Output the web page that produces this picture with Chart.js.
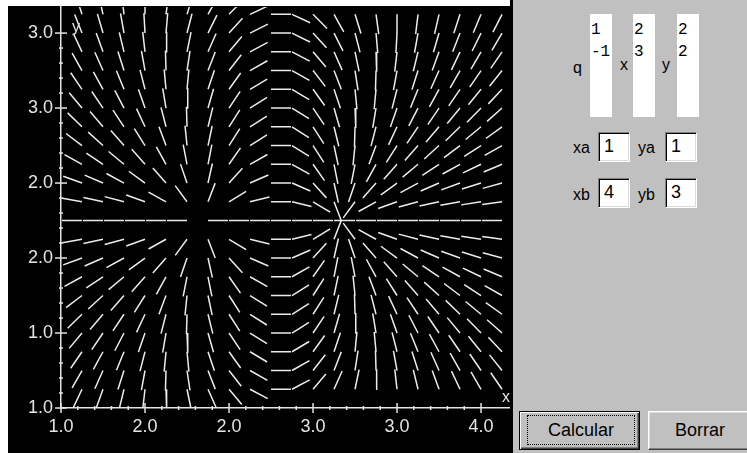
<!DOCTYPE html>
<html>
<head>
<meta charset="utf-8">
<script src="https://cdn.jsdelivr.net/npm/chart.js@4/dist/chart.umd.min.js"></script>
<style>
  html, body { margin:0; padding:0; width:747px; height:453px; overflow:hidden; background:#fff; position:relative;
    font-family:"Liberation Sans Narrow","Liberation Sans",Arial,sans-serif; }
  #plot { position:absolute; left:8px; top:6px; width:504px; height:447px; background:#000; }
  #plot canvas { display:block; }
  #sep { position:absolute; left:510px; top:0; width:3px; height:453px; background:#000; }
  #panel { position:absolute; left:513px; top:0; width:234px; height:453px; background:#c0c0c0; }
  .lbl { position:absolute; font-size:16px; line-height:16px; color:#000; white-space:pre; }
  .area { position:absolute; background:#fff; font-family:"Liberation Mono","DejaVu Sans Mono",monospace;
    font-size:16px; line-height:21.5px; color:#000; white-space:pre; box-sizing:border-box; padding:6px 0 0 1px; overflow:hidden; }
  .inp { position:absolute; background:#fff; box-sizing:border-box; width:32px; height:30px;
    border:1px solid; border-color:#808080 #ffffff #ffffff #808080;
    box-shadow: inset 1px 1px 0 #000, inset -1px -1px 0 #dcdcdc;
    font-size:18px; line-height:26px; padding-left:5px; color:#000; }
  .btn { position:absolute; top:411px; height:39px; box-sizing:border-box; background:#c0c0c0;
    font-size:18px; line-height:37px; text-align:center; color:#000; }
  #calc { left:519px; width:121px; border:1px solid #000;
    box-shadow: inset 1px 1px 0 #ffffff, inset -1px -1px 0 #404040, inset -2px -2px 0 #808080; }
  #calc span { position:absolute; left:7px; top:3px; right:4px; bottom:4px; border:1px dotted #000; line-height:29px; }
  #borr { left:648px; width:104px; border:1px solid; border-color:#ffffff #404040 #404040 #ffffff;
    box-shadow: inset -1px -1px 0 #808080, inset 1px 1px 0 #dfdfdf; }
</style>
</head>
<body>
<div id="plot"><canvas id="c" width="504" height="447"></canvas></div>
<div id="sep"></div>
<div id="panel"></div>

<span class="lbl" style="left:573px; top:60px;">q</span>
<div class="area" id="qArea" style="left:590px; top:14px; width:22px; height:103px;"></div>
<span class="lbl" style="left:620px; top:57px;">x</span>
<div class="area" id="xArea" style="left:633px; top:14px; width:22px; height:103px;"></div>
<span class="lbl" style="left:662px; top:57px;">y</span>
<div class="area" id="yArea" style="left:677px; top:14px; width:22px; height:103px;"></div>

<span class="lbl" style="left:573px; top:140px;">xa</span>
<div class="inp" id="xaBox" style="left:598px; top:132px;"></div>
<span class="lbl" style="left:638px; top:140px;">ya</span>
<div class="inp" id="yaBox" style="left:665px; top:132px;"></div>
<span class="lbl" style="left:573px; top:187px;">xb</span>
<div class="inp" id="xbBox" style="left:598px; top:178px;"></div>
<span class="lbl" style="left:638px; top:187px;">yb</span>
<div class="inp" id="ybBox" style="left:665px; top:178px;"></div>

<div class="btn" id="calc"><span>Calcular</span></div>
<div class="btn" id="borr">Borrar</div>

<script>
// ---- data ----
const CHARGE_Q = [1, -1];
const CHARGE_X = [2, 3];
const CHARGE_Y = [2, 2];
const REGION_XA = 1, REGION_YA = 1, REGION_XB = 4, REGION_YB = 3;
const GRID_DIVISIONS = 20;
const X_TICK_VALUES = [1.0, 1.6, 2.2, 2.8, 3.4, 4.0];
const X_TICK_LABELS = ['1.0', '2.0', '2.0', '3.0', '3.0', '4.0'];
const Y_TICK_VALUES = [1.0, 1.4, 1.8, 2.2, 2.6, 3.0];
const Y_TICK_LABELS = ['1.0', '1.0', '2.0', '2.0', '3.0', '3.0'];
const MINOR_PER_INTERVAL = 5;
const X_VIEW_MAX = 4.214, Y_VIEW_MAX = 3.139;

// panel texts
document.getElementById('qArea').textContent = CHARGE_Q.join('\n');
document.getElementById('xArea').textContent = CHARGE_X.join('\n');
document.getElementById('yArea').textContent = CHARGE_Y.join('\n');
document.getElementById('xaBox').textContent = REGION_XA;
document.getElementById('yaBox').textContent = REGION_YA;
document.getElementById('xbBox').textContent = REGION_XB;
document.getElementById('ybBox').textContent = REGION_YB;

const AXIS_COLOR = '#e4e4e4';
const LINE_COLOR = '#ececec';
const FONT_FAMILY = "'Liberation Sans Narrow','Liberation Sans',Arial,sans-serif";
const SEG_LEN_PX = 20;

function buildTicks(values) {
  const out = [];
  for (let k = 0; k < values.length; k++) {
    out.push({ value: values[k], major: true });
    if (k < values.length - 1) {
      const step = (values[k + 1] - values[k]) / MINOR_PER_INTERVAL;
      for (let m = 1; m < MINOR_PER_INTERVAL; m++) out.push({ value: values[k] + m * step, major: false });
    }
  }
  return out;
}
function labelFor(values, labels, v) {
  const i = values.findIndex(t => Math.abs(t - v) < 1e-9);
  return i >= 0 ? labels[i] : '';
}

const tickMarks = {
  id: 'tickMarks',
  afterDraw(chart) {
    const ctx = chart.ctx, xs = chart.scales.x, ys = chart.scales.y;
    ctx.save();
    ctx.strokeStyle = AXIS_COLOR;
    ctx.lineWidth = 1.5;
    const yAxisPix = xs.top, xAxisPix = ys.right;
    xs.ticks.forEach(t => {
      const p = xs.getPixelForValue(t.value), h = t.major ? 5 : 2;
      ctx.beginPath(); ctx.moveTo(p, yAxisPix - h); ctx.lineTo(p, yAxisPix + h); ctx.stroke();
    });
    ys.ticks.forEach(t => {
      const p = ys.getPixelForValue(t.value), h = t.major ? 6 : 2;
      ctx.beginPath(); ctx.moveTo(xAxisPix - h, p); ctx.lineTo(xAxisPix + h, p); ctx.stroke();
    });
    // axis names
    ctx.fillStyle = AXIS_COLOR;
    ctx.font = "16px " + FONT_FAMILY;
    ctx.textBaseline = 'alphabetic';
    ctx.textAlign = 'left';
    ctx.fillText('x', chart.chartArea.right - 9, yAxisPix - 6);
    ctx.fillText('y', xAxisPix + 11, chart.chartArea.top + 25);
    ctx.restore();
  }
};

const chart = new Chart(document.getElementById('c'), {
  type: 'scatter',
  data: { datasets: [{
    data: [],
    showLine: true,
    spanGaps: false,
    borderColor: LINE_COLOR,
    borderWidth: 1.5,
    pointRadius: 0,
    pointHoverRadius: 0,
    tension: 0
  }]},
  options: {
    responsive: false,
    animation: false,
    events: [],
    layout: { padding: { left: 0, right: 1, top: 1, bottom: 0 } },
    plugins: { legend: { display: false }, tooltip: { enabled: false }, title: { display: false } },
    scales: {
      x: {
        type: 'linear', min: REGION_XA, max: X_VIEW_MAX,
        afterBuildTicks: s => { s.ticks = buildTicks(X_TICK_VALUES); },
        afterFit: s => { s.height = 45; s.paddingLeft = 0; s.paddingRight = 0; },
        grid: { display: true, drawOnChartArea: false, drawTicks: false },
        border: { display: true, color: AXIS_COLOR, width: 1.5 },
        ticks: { autoSkip: false, maxRotation: 0, minRotation: 0, padding: 8, color: AXIS_COLOR,
          font: { size: 18, family: FONT_FAMILY },
          callback: v => labelFor(X_TICK_VALUES, X_TICK_LABELS, v) }
      },
      y: {
        type: 'linear', min: REGION_YA, max: Y_VIEW_MAX,
        afterBuildTicks: s => { s.ticks = buildTicks(Y_TICK_VALUES); },
        afterFit: s => { s.width = 53; s.paddingTop = 0; s.paddingBottom = 0; },
        grid: { display: true, drawOnChartArea: false, drawTicks: false },
        border: { display: true, color: AXIS_COLOR, width: 1.5 },
        ticks: { autoSkip: false, padding: 8, color: AXIS_COLOR,
          font: { size: 18, family: FONT_FAMILY },
          callback: v => labelFor(Y_TICK_VALUES, Y_TICK_LABELS, v) }
      }
    }
  },
  plugins: [tickMarks]
});

// field direction segments, one per grid node, starting at the node
function buildSegments() {
  const xs = chart.scales.x, ys = chart.scales.y;
  const kx = xs.getPixelForValue(1) - xs.getPixelForValue(0);
  const ky = ys.getPixelForValue(0) - ys.getPixelForValue(1);
  const hx = (REGION_XB - REGION_XA) / GRID_DIVISIONS;
  const hy = (REGION_YB - REGION_YA) / GRID_DIVISIONS;
  const pts = [];
  for (let i = 1; i <= GRID_DIVISIONS + 1; i++) {
    for (let j = 1; j <= GRID_DIVISIONS + 1; j++) {
      const x = REGION_XA + i * hx, y = REGION_YA + j * hy;
      let ex = 0, ey = 0;
      for (let c = 0; c < CHARGE_Q.length; c++) {
        const dx = x - CHARGE_X[c], dy = y - CHARGE_Y[c];
        const r3 = Math.pow(dx * dx + dy * dy, 1.5);
        ex += CHARGE_Q[c] * dx / r3;
        ey += CHARGE_Q[c] * dy / r3;
      }
      const px = ex * kx, py = ey * ky;
      const n = Math.hypot(px, py) || 1;
      const x1 = xs.getValueForPixel(xs.getPixelForValue(x) + SEG_LEN_PX * px / n);
      const y1 = ys.getValueForPixel(ys.getPixelForValue(y) - SEG_LEN_PX * py / n);
      pts.push({ x: x, y: y }, { x: x1, y: y1 }, { x: x1, y: null });
    }
  }
  return pts;
}
chart.data.datasets[0].data = buildSegments();
chart.update('none');
</script>
</body>
</html>
